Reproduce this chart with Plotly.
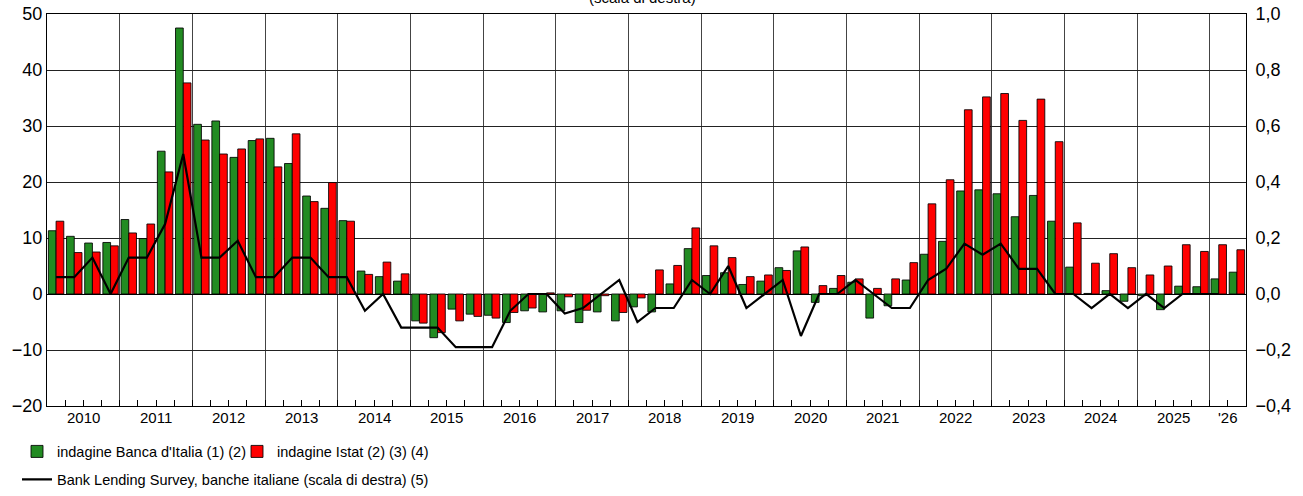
import plotly.graph_objects as go

year_labels = [str(y) for y in range(2010, 2026)] + ["'26"]
quarters_per_year = [4] * 16 + [2]

green = [
    11.3, 10.3, 9.1, 9.2,     # 2010
    13.3, 9.9, 25.5, 47.5,    # 2011
    30.3, 30.9, 24.4, 27.4,   # 2012
    27.8, 23.3, 17.5, 15.3,   # 2013
    13.1, 4.1, 3.1, 2.3,      # 2014
    -4.8, -7.8, -2.7, -3.6,   # 2015
    -3.8, -5.1, -3.0, -3.2,   # 2016
    -3.0, -5.1, -3.2, -4.8,   # 2017
    -2.3, -3.2, 1.8, 8.1,     # 2018
    3.3, 3.8, 1.7, 2.3,       # 2019
    4.7, 7.7, -1.5, 1.0,      # 2020
    2.1, -4.3, -2.1, 2.5,     # 2021
    7.1, 9.4, 18.4, 18.6,     # 2022
    17.9, 13.8, 17.6, 13.0,   # 2023
    4.8, 0.1, 0.6, -1.3,      # 2024
    -0.3, -2.8, 1.4, 1.3,     # 2025
    2.7, 3.9,                 # 2026
]

red = [
    13.0, 7.4, 7.5, 8.6,
    10.9, 12.5, 21.8, 37.7,
    27.5, 25.0, 25.9, 27.7,
    22.7, 28.6, 16.5, 19.9,
    13.0, 3.5, 5.7, 3.6,
    -5.2, -6.9, -4.8, -4.0,
    -4.3, -3.3, -2.5, 0.2,
    -0.5, -2.9, -0.3, -3.3,
    -0.7, 4.3, 5.1, 11.8,
    8.6, 6.5, 3.1, 3.4,
    4.2, 8.4, 1.5, 3.3,
    2.7, 1.0, 2.7, 5.6,
    16.1, 20.4, 32.9, 35.2,
    35.8, 31.0, 34.8, 27.2,
    12.7, 5.5, 7.2, 4.7,
    3.4, 5.0, 8.8, 7.6,
    8.8, 7.9,
]

bls = [
    0.06, 0.06, 0.13, 0.0,
    0.13, 0.13, 0.25, 0.50,
    0.13, 0.13, 0.19, 0.06,
    0.06, 0.13, 0.13, 0.06,
    0.06, -0.06, 0.0, -0.12,
    -0.12, -0.12, -0.19, -0.19,
    -0.19, -0.06, 0.0, 0.0,
    -0.07, -0.05, 0.0, 0.05,
    -0.10, -0.05, -0.05, 0.05,
    0.0, 0.10, -0.05, 0.0,
    0.05, -0.15, 0.0, 0.0,
    0.05, 0.0, -0.05, -0.05,
    0.05, 0.09, 0.18, 0.14,
    0.18, 0.09, 0.09, 0.0,
    0.0, -0.05, 0.0, -0.05,
    0.0, -0.05, 0.0, 0.0,
    0.0, None,
]

n = len(green)
x = list(range(n))

starts = []
s = 0
for q in quarters_per_year:
    starts.append(s)
    s += q
year_bounds = [st - 0.5 for st in starts[1:]]
year_centers = [st + q / 2 - 0.5 for st, q in zip(starts, quarters_per_year)]
quarter_bounds = [i + 0.5 for i in range(n - 1)]

FONT = "Liberation Sans, Arial, sans-serif"
W, H = 1303, 496

fig = go.Figure()
fig.add_trace(go.Bar(
    x=x, y=green, name="indagine Banca d'Italia (1) (2)",
    marker=dict(color="#228B22", line=dict(color="rgba(0,0,0,0.85)", width=1)),
    legend="legend",
))
fig.add_trace(go.Bar(
    x=x, y=red, name="indagine Istat (2) (3) (4)",
    marker=dict(color="#FF0000", line=dict(color="rgba(0,0,0,0.85)", width=1)),
    legend="legend",
))
fig.add_trace(go.Scatter(
    x=x, y=bls, mode="lines", yaxis="y2",
    name="Bank Lending Survey, banche italiane (scala di destra) (5)",
    line=dict(color="black", width=2.2),
    legend="legend2",
))

annotations = []
for c, lab in zip(year_centers, year_labels):
    annotations.append(dict(
        x=c, y=0, xref="x", yref="paper", text=lab, showarrow=False,
        yanchor="top", yshift=-1, font=dict(family=FONT, size=15, color="black"),
    ))
annotations.append(dict(
    x=(642 - 47) / 1199, y=1.0, xref="paper", yref="paper", text="(scala di destra)",
    showarrow=False, font=dict(family=FONT, size=15, color="black"),
    xanchor="center", yanchor="bottom", yshift=6,
))

fig.update_layout(
    template="none",
    width=W, height=H,
    margin=dict(l=47, r=57, t=14, b=90, autoexpand=False),
    paper_bgcolor="white", plot_bgcolor="white",
    separators=",.",
    barmode="group", bargap=0.15, bargroupgap=0.0,
    font=dict(family=FONT, size=17, color="black"),
    xaxis=dict(
        automargin=False,
        range=[-0.5, n - 0.5],
        tickmode="array", tickvals=year_bounds, ticktext=[""] * len(year_bounds),
        ticks="inside", ticklen=6, tickcolor="black",
        showgrid=True, gridcolor="#444", gridwidth=1,
        showline=True, linecolor="black", linewidth=1, mirror=True,
        zeroline=False,
        minor=dict(tickmode="array", tickvals=quarter_bounds, ticks="inside",
                   ticklen=6, tickcolor="black", showgrid=False),
    ),
    yaxis=dict(
        automargin=False,
        range=[-20, 50], dtick=10, tick0=0,
        showgrid=True, gridcolor="#222", gridwidth=1,
        zeroline=True, zerolinecolor="black", zerolinewidth=1,
        showline=True, linecolor="black", linewidth=1,
        ticks="", ticklabelstandoff=0, ticklabeloverflow="allow",
        tickfont=dict(family=FONT, size=18),
    ),
    yaxis2=dict(
        automargin=False,
        range=[-0.4, 1.0], dtick=0.2, tick0=0, tickformat=".1f",
        overlaying="y", side="right",
        showgrid=False, zeroline=False,
        showline=True, linecolor="black", linewidth=1,
        ticks="", ticklabelstandoff=5, ticklabeloverflow="allow",
        tickfont=dict(family=FONT, size=18),
    ),
    legend=dict(
        orientation="h", xref="container", yref="container",
        x=17 / W, y=0.122, xanchor="left", yanchor="top",
        font=dict(family=FONT, size=14.5), bgcolor="rgba(0,0,0,0)",
        itemwidth=30, traceorder="normal",
        entrywidth=175, entrywidthmode="pixels",
    ),
    legend2=dict(
        orientation="h", xref="container", yref="container",
        x=17 / W, y=0.0655, xanchor="left", yanchor="top",
        font=dict(family=FONT, size=14.5), bgcolor="rgba(0,0,0,0)",
        itemwidth=30,
    ),
    annotations=annotations,
    showlegend=True,
)

fig.write_html(
    "out.html",
    config={"displayModeBar": False},
    post_script="document.body.style.margin='0px';document.body.style.overflow='hidden';",
)
